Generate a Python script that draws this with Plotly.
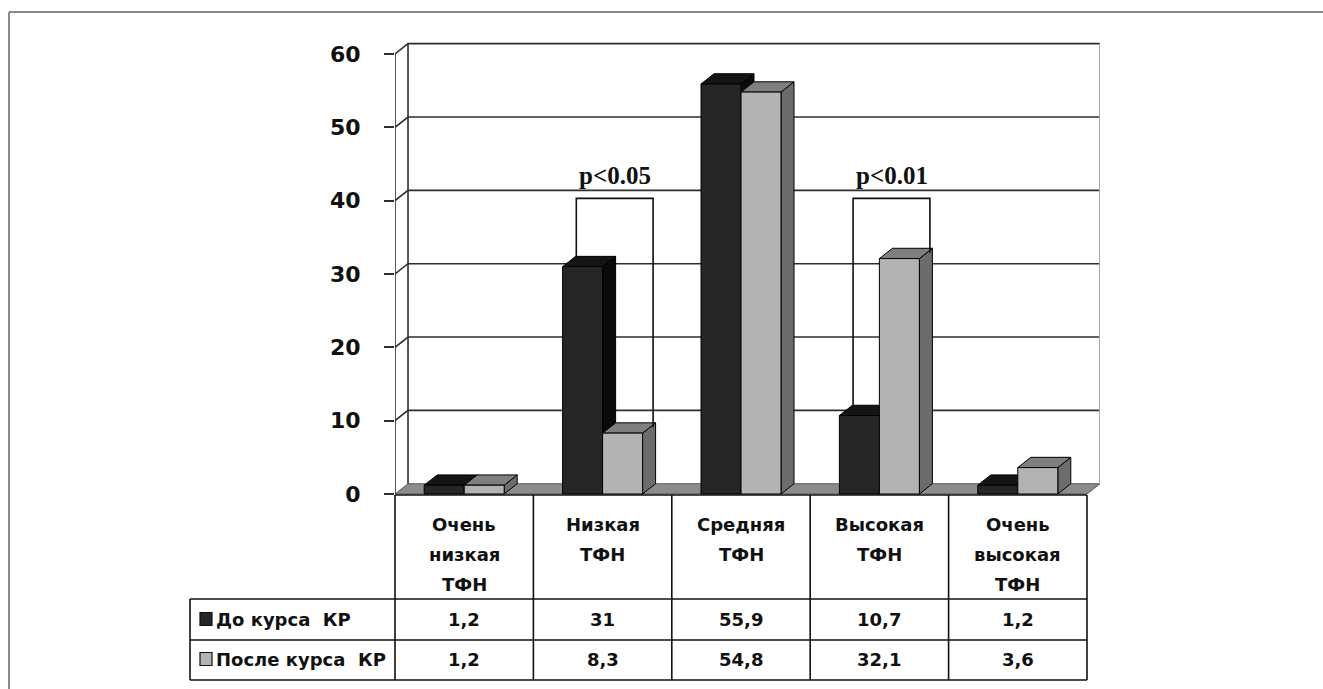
import plotly.graph_objects as go

# ---- data -------------------------------------------------------------
categories = [
    ["Очень", "низкая", "ТФН"],
    ["Низкая", "ТФН"],
    ["Средняя", "ТФН"],
    ["Высокая", "ТФН"],
    ["Очень", "высокая", "ТФН"],
]
series_names = ["До курса  КР", "После курса  КР"]
before = [1.2, 31, 55.9, 10.7, 1.2]
after = [1.2, 8.3, 54.8, 32.1, 3.6]
y_ticks = [0, 10, 20, 30, 40, 50, 60]
p_labels = ["p&lt;0.05", "p&lt;0.01"]
p_categories = [1, 3]

# ---- geometry / style -------------------------------------------------
W, H = 1323, 689
PL, PR, PT, PB = 395, 1100, 40, 500          # plot area in pixels
BAR_W = 0.289                                # bar width (category units)
DX, DY = 0.094, 1.4                          # 3-D depth offset (x units, y units)
X_RANGE = [-0.5, 4.5 + DX]
Y_RANGE = [-0.82, 61.9]
FONT = "DejaVu Sans"
TXT = "#111111"

DARK = dict(front="#262626", top="#141414", side="#0a0a0a")
LIGHT = dict(front="#b3b3b3", top="#7f7f7f", side="#6c6c6c")
GRID = "#2e2e2e"


def px_x(px):
    return (px - PL) / (PR - PL)


def px_y(py):
    return (PB - py) / (PB - PT)


def cat_x(v):
    """category coordinate -> paper fraction"""
    return (v - X_RANGE[0]) / (X_RANGE[1] - X_RANGE[0])


fig = go.Figure()


def poly(xs, ys, fill, line="#000000", width=1.0):
    fig.add_trace(go.Scatter(
        x=xs, y=ys, mode="lines", fill="toself", fillcolor=fill,
        line=dict(color=line, width=width), hoverinfo="skip", showlegend=False,
    ))


def lines(xs, ys, color, width):
    fig.add_trace(go.Scatter(
        x=xs, y=ys, mode="lines", line=dict(color=color, width=width),
        hoverinfo="skip", showlegend=False,
    ))


# floor
x0, x1 = X_RANGE[0], 4.5
poly([x0, x1, x1 + DX, x0 + DX, x0], [0, 0, DY, DY, 0], "#8c8c8c", "#5a5a5a", 1)

# back wall gridlines and left-wall diagonals
gx, gy = [], []
for v in y_ticks[1:]:
    gx += [x0, x0 + DX, x1 + DX, None]
    gy += [v, v + DY, v + DY, None]
gx += [x0 + DX, x0 + DX, None]
gy += [DY, y_ticks[-1] + DY, None]
lines(gx, gy, GRID, 1.6)
lines([x1 + DX, x1 + DX], [DY, y_ticks[-1] + DY], "#a8a8a8", 2)
# front value axis
lines([x0, x0], [0, y_ticks[-1]], GRID, 1.6)


def bar3d(xl, h, col):
    xr = xl + BAR_W
    poly([xr, xr, xr + DX, xr + DX, xr], [0, h, h + DY, DY, 0], col["side"])
    poly([xl, xr, xr + DX, xl + DX, xl], [h, h, h + DY, h + DY, h], col["top"])
    poly([xl, xr, xr, xl, xl], [0, 0, h, h, 0], col["front"])


for i in range(len(before)):
    bar3d(i - BAR_W, before[i], DARK)
    bar3d(i, after[i], LIGHT)

# significance brackets
for lab, c in zip(p_labels, p_categories):
    lines([c - 0.19, c - 0.19, c + 0.365, c + 0.365],
          [before[c] + 0.8, 40.3, 40.3, after[c] + 0.8], "#111111", 1.6)
    fig.add_annotation(x=c + 0.09, y=43.4, xref="x", yref="y", text=f"<b>{lab}</b>",
                       xanchor="center", yanchor="middle", showarrow=False,
                       font=dict(family="Liberation Serif", size=25, color=TXT))

# ---- data table under the chart ---------------------------------------
shapes = []
tbl_left = px_x(190)
tbl_right = cat_x(4.5)
row_tops = [px_y(495), px_y(599), px_y(640), px_y(680)]
line_style = dict(color="#111111", width=1.6)

shapes.append(dict(type="line", xref="paper", yref="paper", x0=cat_x(-0.5), x1=tbl_right,
                   y0=row_tops[0], y1=row_tops[0], line=line_style))
for yy in row_tops[1:]:
    shapes.append(dict(type="line", xref="paper", yref="paper", x0=tbl_left, x1=tbl_right,
                       y0=yy, y1=yy, line=line_style))
shapes.append(dict(type="line", xref="paper", yref="paper", x0=tbl_left, x1=tbl_left,
                   y0=row_tops[1], y1=row_tops[3], line=line_style))
for k in range(len(categories) + 1):
    xb = cat_x(k - 0.5)
    shapes.append(dict(type="line", xref="paper", yref="paper", x0=xb, x1=xb,
                       y0=row_tops[0], y1=row_tops[3], line=line_style))

cell_font = dict(family=FONT, size=18, color=TXT, weight="bold")

# category headers
for i, words in enumerate(categories):
    for j, w in enumerate(words):
        fig.add_annotation(x=i, y=px_y(524 + 30 * j), xref="x", yref="paper", text=w,
                           xanchor="center", yanchor="middle", showarrow=False, font=cell_font)


def fmt(v):
    return f"{v:g}".replace(".", ",")


row_centers = [px_y(619), px_y(659)]
key_colors = [DARK["front"], LIGHT["front"]]
for r, (name, vals) in enumerate(zip(series_names, [before, after])):
    yc = row_centers[r]
    shapes.append(dict(type="rect", xref="paper", yref="paper",
                       x0=px_x(200), x1=px_x(212), y0=yc - 6.5 / (PB - PT), y1=yc + 6.5 / (PB - PT),
                       fillcolor=key_colors[r], line=dict(color="#111111", width=1.2)))
    fig.add_annotation(x=px_x(214), y=yc, xref="paper", yref="paper", text=name,
                       xanchor="left", yanchor="middle", showarrow=False, font=cell_font)
    for i, v in enumerate(vals):
        fig.add_annotation(x=i, y=yc, xref="x", yref="paper", text=fmt(v),
                           xanchor="center", yanchor="middle", showarrow=False, font=cell_font)

# outer frame (top and left edges)
frame = dict(color="#8a8a8a", width=2)
shapes.append(dict(type="line", xref="paper", yref="paper", x0=px_x(9), x1=px_x(1330),
                   y0=px_y(12), y1=px_y(12), line=frame))
shapes.append(dict(type="line", xref="paper", yref="paper", x0=px_x(9), x1=px_x(9),
                   y0=px_y(12), y1=px_y(700), line=frame))

fig.update_layout(
    width=W, height=H,
    margin=dict(l=PL, r=W - PR, t=PT, b=H - PB, pad=0),
    paper_bgcolor="white", plot_bgcolor="rgba(0,0,0,0)",
    shapes=shapes,
    xaxis=dict(range=X_RANGE, visible=False, fixedrange=True),
    yaxis=dict(range=Y_RANGE, tickvals=y_ticks, ticks="outside", ticklen=10, tickwidth=1.6,
               tickcolor=GRID, showline=False, showgrid=False, zeroline=False,
               ticklabelstandoff=19,
               tickfont=dict(family=FONT, size=22, color=TXT, weight="bold"),
               fixedrange=True),
    showlegend=False,
)

fig.write_html("out.html")
